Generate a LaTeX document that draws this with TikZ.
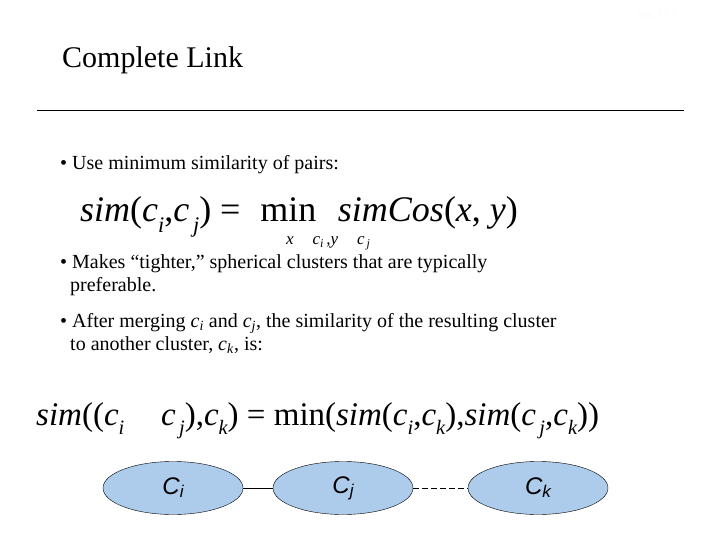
\documentclass[tikz,border=0pt]{standalone}
\usepackage{fontspec}
\usetikzlibrary{shapes.geometric}
\setmainfont{Liberation Serif}
\newfontfamily\lsans{Liberation Sans}
\newcommand{\mysub}[1]{\raisebox{-0.28em}{\scalebox{0.62}{\itshape #1}}}
\begin{document}
\begin{tikzpicture}[x=1pt,y=-1pt,
  clus/.style={ellipse,draw=black,thin,fill={rgb,255:red,173;green,203;blue,234},minimum width=140pt,minimum height=53pt,inner sep=0pt},
  txt/.style={anchor=base west,inner sep=0pt,font=\fontsize{20}{24}\selectfont}]
\useasboundingbox (0,0) rectangle (720,540);
\fill[white] (0,0) rectangle (720,540);
\node[anchor=base east,inner sep=0pt,text={rgb,255:red,250;green,250;blue,250},font=\fontsize{10}{12}\selectfont] (sec) at (676,18) {Sec. 17.2};
\node[txt,font=\fontsize{30}{36}\selectfont] (title) at (62,68) {Complete Link};
\draw[thin] (37,110) coordinate (l1) -- (684,110) coordinate (l2);
\node[txt] (b1) at (60,170) {\textbullet\ Use minimum similarity of pairs:};
\node[anchor=base west,inner sep=0pt,font=\fontsize{36}{40}\selectfont] (f1) at (80,222)
  {\itshape sim\upshape(\itshape c\mysub{i}\upshape,\itshape c\mysub{\,j}\upshape) = \hspace{0.3em}min\hspace{0.6em}\itshape simCos\upshape(\itshape x\upshape, \itshape y\upshape)};
\node[anchor=base west,inner sep=0pt,font=\fontsize{17}{20}\selectfont\itshape] (f1s) at (286,244)
  {x\,∈\,c\raisebox{-0.2em}{\scalebox{0.7}{i}}\,,y\,∈\,c\raisebox{-0.2em}{\scalebox{0.7}{\,j}}};
\node[txt] (b2) at (60,268) {\textbullet\ Makes “tighter,” spherical clusters that are typically};
\node[txt] (b2b) at (70,291) {preferable.};
\node[txt] (b3) at (60,327) {\textbullet\ After merging \textit{c}\textsubscript{\textit{i}} and \textit{c}\textsubscript{\textit{j}}, the similarity of the resulting cluster};
\node[txt] (b3b) at (70,350) {to another cluster, \textit{c}\textsubscript{\textit{k}}, is:};
\node[anchor=base west,inner sep=0pt,font=\fontsize{33}{40}\selectfont] (f2) at (36,425)
  {\itshape sim\upshape((\itshape c\mysub{i}\upshape\,∪\,\itshape c\mysub{\,j}\upshape),\itshape c\mysub{k}\upshape) = min(\itshape sim\upshape(\itshape c\mysub{i}\upshape,\itshape c\mysub{k}\upshape),\itshape sim\upshape(\itshape c\mysub{\,j}\upshape,\itshape c\mysub{k}\upshape))};
\node[clus] (ci) at (173,488) {\lsans\fontsize{24}{28}\selectfont\itshape C\raisebox{-3pt}{\fontsize{17}{18}\selectfont i}};
\node[clus] (cj) at (343,488) {\lsans\fontsize{24}{28}\selectfont\itshape C\raisebox{-3pt}{\fontsize{17}{18}\selectfont j}};
\node[clus] (ck) at (538,488) {\lsans\fontsize{24}{28}\selectfont\itshape C\raisebox{-3pt}{\fontsize{17}{18}\selectfont k}};
\draw (ci) -- (cj);
\draw[dash pattern=on 6pt off 3pt] (cj) -- (ck);
\end{tikzpicture}
\end{document}
